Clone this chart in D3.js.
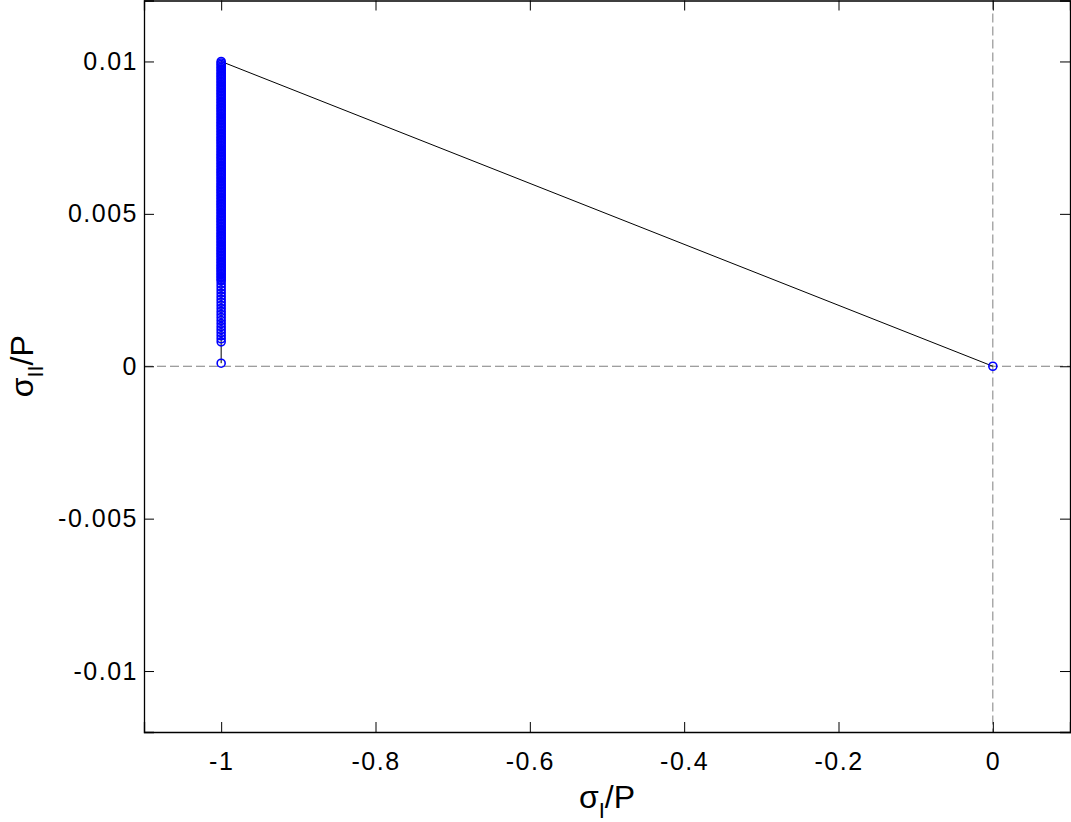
<!DOCTYPE html>
<html>
<head>
<meta charset="utf-8">
<script src="https://cdn.jsdelivr.net/npm/d3@7"></script>
<style>
	body { margin: 0; background: #fff; }
	svg text { font-family: "Liberation Sans", Arial, sans-serif; fill: #000; }
</style>
</head>
<body>
<svg id="svgchart"></svg>
<script>
'use strict'

// tick values:
const xTicks = [-1, -0.8, -0.6, -0.4, -0.2, 0]
const yTicks = [-0.01, -0.005, 0, 0.005, 0.01]
const xTickLabels = ['-1', '-0.8', '-0.6', '-0.4', '-0.2', '0']
const yTickLabels = ['-0.01', '-0.005', '0', '0.005', '0.01']

// sigma_I/P of every point (all at -1, last one back at the origin):
// sigma_II/P, sparse part at the bottom of the column:
const sigmaIISparse = [0.0001, 0.0008, 0.0009, 0.001, 0.0011, 0.0012, 0.0013, 0.0014, 0.0015,
	0.0016, 0.0017, 0.0018, 0.0019, 0.002, 0.0021, 0.0022, 0.0023, 0.0024, 0.0025, 0.0026, 0.0027]
// sigma_II/P (x 1e-3), dense part of the column:
const sigmaIIDense = [
	2.8, 2.85, 2.9, 2.95,
	3, 3.05, 3.1, 3.15, 3.2, 3.25, 3.3, 3.35, 3.4, 3.45, 3.5, 3.55, 3.6, 3.65, 3.7, 3.75, 3.8, 3.85, 3.9, 3.95,
	4, 4.05, 4.1, 4.15, 4.2, 4.25, 4.3, 4.35, 4.4, 4.45, 4.5, 4.55, 4.6, 4.65, 4.7, 4.75, 4.8, 4.85, 4.9, 4.95,
	5, 5.05, 5.1, 5.15, 5.2, 5.25, 5.3, 5.35, 5.4, 5.45, 5.5, 5.55, 5.6, 5.65, 5.7, 5.75, 5.8, 5.85, 5.9, 5.95,
	6, 6.05, 6.1, 6.15, 6.2, 6.25, 6.3, 6.35, 6.4, 6.45, 6.5, 6.55, 6.6, 6.65, 6.7, 6.75, 6.8, 6.85, 6.9, 6.95,
	7, 7.05, 7.1, 7.15, 7.2, 7.25, 7.3, 7.35, 7.4, 7.45, 7.5, 7.55, 7.6, 7.65, 7.7, 7.75, 7.8, 7.85, 7.9, 7.95,
	8, 8.05, 8.1, 8.15, 8.2, 8.25, 8.3, 8.35, 8.4, 8.45, 8.5, 8.55, 8.6, 8.65, 8.7, 8.75, 8.8, 8.85, 8.9, 8.95,
	9, 9.05, 9.1, 9.15, 9.2, 9.25, 9.3, 9.35, 9.4, 9.45, 9.5, 9.55, 9.6, 9.65, 9.7, 9.75, 9.8, 9.85, 9.9, 9.95,
	10
]
const sigmaIColumn = -1
const endPoint = [0, 0]

// build the point list (column, then back to the origin):
const points = sigmaIISparse.map(v => [sigmaIColumn, v])
	.concat(sigmaIIDense.map(v => [sigmaIColumn, v * 1e-3]))
	.concat([endPoint])

const width = 1071, height = 822
const plot = {left: 144, right: 1070, top: 0.5, bottom: 732}

const x = d3.scaleLinear().domain([-1.1, 0.1]).range([plot.left, plot.right])
const y = d3.scaleLinear().domain([-0.012, 0.012]).range([plot.bottom, plot.top])

const svg = d3.select('#svgchart')
	.attr('width', width)
	.attr('height', height)

// dashed zero lines:
svg.append('line')
	.attr('x1', plot.left).attr('x2', plot.right)
	.attr('y1', y(0)).attr('y2', y(0))
	.attr('stroke', '#7f7f7f').attr('stroke-dasharray', '9,4')
svg.append('line')
	.attr('x1', x(0)).attr('x2', x(0))
	.attr('y1', plot.top).attr('y2', plot.bottom)
	.attr('stroke', '#7f7f7f').attr('stroke-dasharray', '9,4')

// line through the points:
svg.append('path')
	.datum(points)
	.attr('fill', 'none')
	.attr('stroke', '#000')
	.attr('stroke-width', 1)
	.attr('d', d3.line().x(d => x(d[0])).y(d => y(d[1])))

// circle markers:
svg.selectAll('circle.pt')
	.data(points)
	.enter().append('circle')
	.classed('pt', true)
	.attr('cx', d => x(d[0]))
	.attr('cy', d => y(d[1]))
	.attr('r', 4)
	.attr('fill', 'none')
	.attr('stroke', '#0000ff')
	.attr('stroke-width', 1.6)

// axes (ticks inside, on all four sides):
const tickLen = 10
svg.append('g')
	.attr('transform', 'translate(0,' + plot.bottom + ')')
	.call(d3.axisBottom(x).tickValues(xTicks).tickSize(-tickLen).tickPadding(20).tickFormat((d, i) => xTickLabels[i]))
svg.append('g')
	.attr('transform', 'translate(0,' + plot.top + ')')
	.call(d3.axisTop(x).tickValues(xTicks).tickSize(-tickLen).tickFormat(''))
svg.append('g')
	.attr('transform', 'translate(' + plot.left + ',0)')
	.call(d3.axisLeft(y).tickValues(yTicks).tickSize(-tickLen).tickPadding(6).tickFormat((d, i) => yTickLabels[i]))
svg.append('g')
	.attr('transform', 'translate(' + plot.right + ',0)')
	.call(d3.axisRight(y).tickValues(yTicks).tickSize(-tickLen).tickFormat(''))

svg.selectAll('.domain').attr('stroke', '#000').attr('stroke-width', 1.3)
svg.selectAll('.tick line').attr('stroke', '#000')
svg.selectAll('.tick text')
	.style('font-size', '25px')
	.style('letter-spacing', '1.5px')
	.style('font-family', '"Liberation Sans", Arial, sans-serif')

// axis labels:
const xLabel = svg.append('text')
	.attr('x', (plot.left + plot.right) / 2)
	.attr('y', 808)
	.attr('text-anchor', 'middle')
	.style('font-size', '32px')
xLabel.append('tspan').text('σ')
xLabel.append('tspan').attr('dy', 10).style('font-size', '22px').text('I')
xLabel.append('tspan').attr('dy', -10).text('/P')

const yLabel = svg.append('text')
	.attr('transform', 'translate(33,' + y(0) + ') rotate(-90)')
	.attr('text-anchor', 'middle')
	.style('font-size', '32px')
yLabel.append('tspan').text('σ')
yLabel.append('tspan').attr('dy', 10).style('font-size', '22px').text('II')
yLabel.append('tspan').attr('dy', -10).text('/P')
</script>
</body>
</html>
